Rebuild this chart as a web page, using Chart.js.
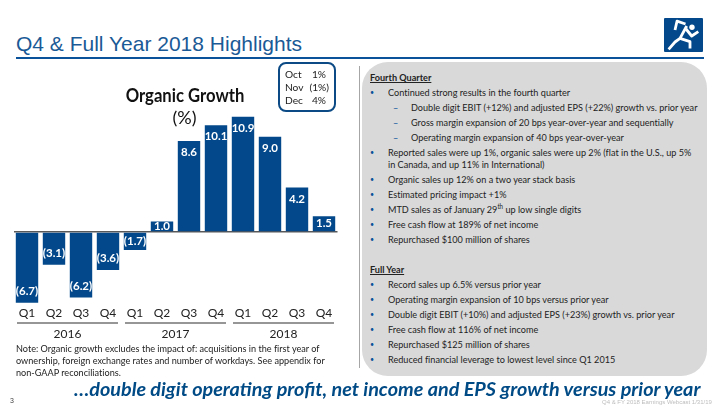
<!DOCTYPE html>
<html>
<head>
<meta charset="utf-8">
<title>Q4 & Full Year 2018 Highlights</title>
<script src="https://cdn.jsdelivr.net/npm/chart.js@4"></script>
<style>
    html, body { margin: 0; padding: 0; background: #fff; }
    body { position: relative; width: 720px; height: 405px; overflow: hidden; font-family: Lato, sans-serif; color: #222; font-variant-ligatures: none; }
    .t { position: absolute; white-space: nowrap; line-height: 12px; }
    .side, .note { font-size: 10.3px; transform: scaleX(0.885); transform-origin: left; }
    .note { left: 16px; }
    .inset { font-size: 10.2px; }
    sup { font-size: 7px; line-height: 0; }
    #chart { position: absolute; left: 0; top: 0; }
</style>
</head>
<body>
<div class="t" style="left:16px;top:32px;font:21px 'Liberation Sans';color:#1a5a96">Q4 &amp; Full Year 2018 Highlights</div>
<div style="position:absolute;left:16px;top:57px;width:688px;height:2px;background:#0a5299"></div>
<svg style="position:absolute;left:664px;top:18px" width="39" height="34">
    <rect width="39" height="34" rx="1" fill="#03488a"/>
    <circle cx="28" cy="9.3" r="2.7" fill="#fff"/>
    <g fill="none" stroke="#fff" stroke-width="2.8" stroke-linejoin="round">
        <path d="M21.5 6 L13 3.2 L11 12"/>
        <path d="M22.7 8 L16 20.3 L11 24 L4.6 31.3"/>
        <path d="M16 20.3 L26 23.7 L26 30.5"/>
        <path d="M22 11 L27.7 18 L34.3 13.7"/>
    </g>
</svg>
<div style="position:absolute;left:359px;top:66px;width:1px;height:302px;background:#a6a6a6"></div>
<div style="position:absolute;left:362px;top:62px;width:345px;height:314px;border-radius:26px;background:#d9d9d9"></div>
<div style="position:absolute;left:278px;top:62px;width:54px;height:46px;border:2px solid #0b4a85;border-radius:8px;background:#fff"></div>
<canvas id="chart" width="368" height="405"></canvas>
<div id="texts"></div>
<script>
const quarterLabels = ["Q1", "Q2", "Q3", "Q4", "Q1", "Q2", "Q3", "Q4", "Q1", "Q2", "Q3", "Q4"];
const organicGrowth = [-6.7, -3.1, -6.2, -3.6, -1.7, 1.0, 8.6, 10.1, 10.9, 9.0, 4.2, 1.5];
const yearLabels = ["2016", "2017", "2018"];
const yearSpans = [[0, 3], [4, 7], [8, 11]];

const insetMonths = ["Oct", "Nov", "Dec"];
const insetValues = ["1%", "(1%)", "4%"];

const noteLines = [
    "Note: Organic growth excludes the impact of: acquisitions in the first year of",
    "ownership, foreign exchange rates and number of workdays. See appendix for",
    "non-GAAP reconciliations."
];

// h = heading, b = bullet, d = dash, c = continued line
const sideLines = [
    ["h", 77, "Fourth Quarter"],
    ["b", 92, "Continued strong results in the fourth quarter"],
    ["d", 107, "Double digit EBIT (+12%) and adjusted EPS (+22%) growth vs. prior year"],
    ["d", 122, "Gross margin expansion of 20 bps year-over-year and sequentially"],
    ["d", 137, "Operating margin expansion of 40 bps year-over-year"],
    ["b", 152, "Reported sales were up 1%, organic sales were up 2% (flat in the U.S., up 5%"],
    ["c", 164, "in Canada, and up 11% in International)"],
    ["b", 179, "Organic sales up 12% on a two year stack basis"],
    ["b", 194, "Estimated pricing impact +1%"],
    ["b", 209, "MTD sales as of January 29<sup>th</sup> up low single digits"],
    ["b", 224, "Free cash flow at 189% of net income"],
    ["b", 239, "Repurchased $100 million of shares"],
    ["h", 269, "Full Year"],
    ["b", 284, "Record sales up 6.5% versus prior year"],
    ["b", 299, "Operating margin expansion of 10 bps versus prior year"],
    ["b", 314, "Double digit EBIT (+10%) and adjusted EPS (+23%) growth vs. prior year"],
    ["b", 329, "Free cash flow at 116% of net income"],
    ["b", 344, "Repurchased $125 million of shares"],
    ["b", 359, "Reduced financial leverage to lowest level since Q1 2015"]
];

function addText(cls, left, midY, html, style) {
    const el = document.createElement("div");
    el.className = "t " + cls;
    el.style.cssText = "left:" + left + "px;top:" + (midY - 6) + "px;" + (style || "");
    el.innerHTML = html;
    document.getElementById("texts").appendChild(el);
}

sideLines.forEach(l => {
    if (l[0] === "h") {
        addText("side", 370, l[1], l[2], "font-weight:bold;text-decoration:underline");
        return;
    }
    if (l[0] === "b") addText("side", 370, l[1], "•", "color:#0a5299;font-size:8px");
    if (l[0] === "d") addText("side", 393, l[1], "–", "color:#0a5299");
    addText("side", l[0] === "d" ? 411 : 388, l[1], l[2]);
});

noteLines.forEach((line, i) => addText("note", 16, 348 + i * 12, line));

insetMonths.forEach((m, i) => {
    addText("inset", 285, 74 + i * 13, m);
    addText("inset", 285, 74 + i * 13, insetValues[i], "left:auto;right:" + (i === 1 ? 391 : 394) + "px");
});

addText("", 184.5, 95, "Organic Growth",
    "font:bold 18.5px/12px Lato;color:#111;transform:translateX(-50%) scaleX(0.9)");
addText("", 184.5, 117, "(%)", "font:18px/12px Lato;color:#111;transform:translateX(-50%)");
addText("", 74, 388, "…double digit operating profit, net income and EPS growth versus prior year",
    "font:italic bold 19.8px/12px Lato;color:#004a86");
addText("", 10, 401, "3", "font:7px/12px 'Liberation Sans';color:#444");
addText("", 602, 402, "Q4 &amp; FY 2018 Earnings Webcast 1/31/19", "font:6px/12px 'Liberation Sans';color:#bdbdbd");

function barLabel(v) {
    return v < 0 ? "(" + Math.abs(v).toFixed(1) + ")" : v.toFixed(1);
}

// values inside the bars, and the rules under the quarters
const slidePlugin = {
    id: "slidePlugin",
    afterDatasetsDraw(chart) {
        const ctx = chart.ctx;
        ctx.save();
        ctx.font = "bold 11.5px Lato";
        ctx.fillStyle = "#fff";
        ctx.textAlign = "center";
        ctx.textBaseline = "middle";
        chart.getDatasetMeta(0).data.forEach((bar, i) => {
            const h = Math.abs(bar.base - bar.y);
            const off = Math.min(11.5, h / 2);
            const y = organicGrowth[i] < 0 ? bar.y - off : bar.y + off;
            ctx.fillText(barLabel(organicGrowth[i]), bar.x, y);
        });
        const x = chart.scales.x;
        const y = chart.scales.years.top;
        ctx.strokeStyle = "#737373";
        ctx.lineWidth = 1.5;
        yearSpans.forEach(s => {
            ctx.beginPath();
            ctx.moveTo(x.getPixelForTick(s[0]) - 10, y);
            ctx.lineTo(x.getPixelForTick(s[1]) + 10, y);
            ctx.stroke();
        });
        ctx.restore();
    }
};

new Chart(document.getElementById("chart").getContext("2d"), {
    type: "bar",
    plugins: [slidePlugin],
    data: {
        labels: quarterLabels,
        datasets: [{
            label: "Organic Growth (%)",
            data: organicGrowth,
            backgroundColor: "#03488a",
            barPercentage: 0.83,
            categoryPercentage: 1
        }]
    },
    options: {
        responsive: false,
        animation: false,
        layout: { padding: { left: 13.5, right: 30.5, top: 115.7, bottom: 60 } },
        plugins: {
            legend: { display: false },
            tooltip: { enabled: false }
        },
        scales: {
            x: {
                grid: { display: false, drawTicks: false },
                border: { display: false },
                ticks: { color: "#222", font: { family: "Lato", size: 12 }, padding: 0, maxRotation: 0 },
                afterFit(s) { s.height = 17; }
            },
            years: {
                type: "category",
                labels: yearLabels,
                position: "bottom",
                grid: { display: false, drawTicks: false },
                border: { display: false },
                ticks: { color: "#222", font: { family: "Lato", size: 12 }, padding: 4, maxRotation: 0 },
                afterFit(s) { s.height = 22; }
            },
            y: {
                min: -7,
                max: 11,
                border: { display: false },
                ticks: { display: false, stepSize: 1 },
                grid: {
                    drawTicks: false,
                    lineWidth: 1.5,
                    color: c => c.tick.value === 0 ? "#595959" : "transparent"
                }
            }
        }
    }
});
</script>
</body>
</html>
